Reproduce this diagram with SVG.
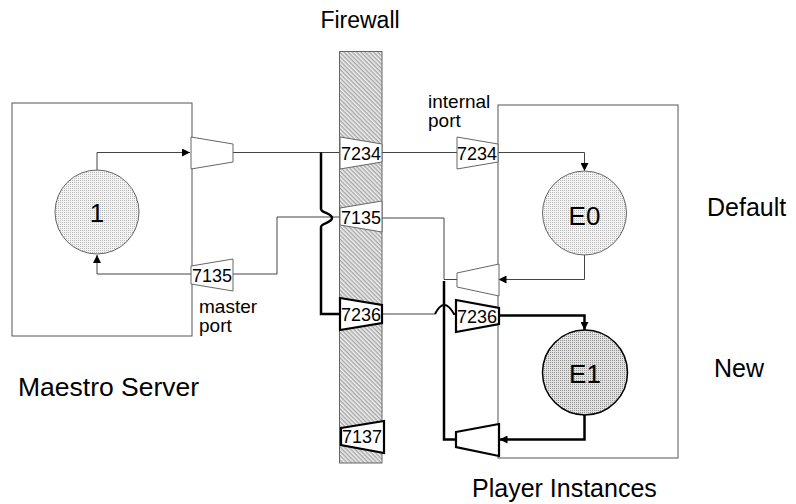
<svg xmlns="http://www.w3.org/2000/svg" width="796" height="504" viewBox="0 0 796 504">
<style>
  .box { fill: none; stroke: #555; stroke-width: 1; }
  .trap { fill: #fff; stroke: #666; stroke-width: 1; }
  .trapb { fill: #fff; stroke: #000; stroke-width: 2.2; }
  .thin { fill: none; stroke: #444; stroke-width: 1; }
  .thick { fill: none; stroke: #000; stroke-width: 2.5; }
  .t { font-family: "Liberation Sans", Arial, sans-serif; fill: #000; }
  .lbl { font-size: 25px; }
  .small { font-size: 19px; }
  .num { font-size: 18px; text-anchor: middle; }
  .cl { font-size: 26px; text-anchor: middle; }
</style>
<defs>
  <pattern id="dots" patternUnits="userSpaceOnUse" width="2" height="2">
    <rect width="2" height="2" fill="#f4f4f4"/>
    <rect width="1" height="1" fill="#b8b8b8"/>
  </pattern>
  <pattern id="dots2" patternUnits="userSpaceOnUse" width="2" height="2">
    <rect width="2" height="2" fill="#e2e2e2"/>
    <rect width="1" height="1" fill="#909090"/>
  </pattern>
  <pattern id="hatch" patternUnits="userSpaceOnUse" width="3" height="3" patternTransform="rotate(45)">
    <rect width="3" height="3" fill="#efefef"/>
    <line x1="0" y1="0.75" x2="3" y2="0.75" stroke="#999" stroke-width="1.2"/>
  </pattern>
  <marker id="arr" markerUnits="userSpaceOnUse" markerWidth="8" markerHeight="8" refX="8" refY="4" orient="auto">
    <path d="M0,0 L8,4 L0,8 z" fill="#000"/>
  </marker>
</defs>
<rect width="796" height="504" fill="#fff"/>

<!-- Titles -->
<text class="t" x="360" y="28" text-anchor="middle" font-size="23">Firewall</text>
<text class="t lbl" x="707" y="216">Default</text>
<text class="t lbl" x="714" y="377">New</text>
<text class="t" x="18" y="396" font-size="26.5">Maestro Server</text>
<text class="t lbl" x="472" y="497">Player Instances</text>
<text class="t small" x="428" y="108">internal</text>
<text class="t small" x="428" y="127">port</text>
<text class="t small" x="199" y="313">master</text>
<text class="t small" x="199" y="332">port</text>

<!-- Firewall -->
<g id="firewall">
  <rect x="339.5" y="51.5" width="42.5" height="411.5" fill="url(#hatch)" stroke="#666" stroke-width="1"/>
</g>

<!-- Maestro Server box -->
<g id="maestro">
  <rect class="box" x="12" y="103" width="180" height="233"/>
</g>

<!-- Player Instances box -->
<g id="players">
  <rect class="box" x="498" y="105" width="180" height="353"/>
</g>

<!-- Connectors -->
<g id="connectors">
  <path class="thin" d="M97,170 V152.5 H190" marker-end="url(#arr)"/>
  <path class="thin" d="M233,152.5 H340"/>
  <path class="thin" d="M191,274 H97 V255" marker-end="url(#arr)"/>
  <path class="thin" d="M233,274 H277 V217 H340"/>
  <path class="thick" d="M321,152.5 V209 C321,213 332,213 332,218 C332,223 321,223 321,227 V314 H340"/>
  <path class="thin" d="M382,152.5 H457"/>
  <path class="thin" d="M498,152.5 H584.5 V171" marker-end="url(#arr)"/>
  <path class="thin" d="M382,218 H444 V279.5 H457"/>
  <path class="thin" d="M584.5,255 V279.5 H498.5" marker-end="url(#arr)"/>
  <path class="thick" d="M444,281 V439.5 H457"/>
  <path class="thin" d="M382,314 H435"/>
  <path d="M435,314 Q444,296 454,314 H456" fill="none" stroke="#000" stroke-width="2"/>
  <path class="thick" d="M499,315.5 H584.5 V330" marker-end="url(#arr)"/>
  <path class="thick" d="M584.5,415 V439.5 H499.5" marker-end="url(#arr)"/>
</g>

<!-- Ports -->
<g id="port-maestro-out">
  <polygon class="trap" points="191,137 233,144 233,162 191,169"/>
</g>
<g id="port-maestro-7135">
  <polygon class="trap" points="191,266 233,259 233,291 191,284"/>
  <text class="t num" x="212" y="282">7135</text>
</g>
<g id="port-fw-7234">
  <polygon class="trap" points="340,137 382,144 382,162 340,169"/>
  <text class="t num" x="361" y="160">7234</text>
</g>
<g id="port-fw-7135">
  <polygon class="trap" points="340,208 382,201 382,232 340,225"/>
  <text class="t num" x="361" y="224">7135</text>
</g>
<g id="port-fw-7236">
  <polygon class="trapb" points="340,298 382,305 382,323 340,330"/>
  <text class="t num" x="361" y="321">7236</text>
</g>
<g id="port-fw-7137">
  <polygon class="trapb" points="341,428 384,421 384,453 341,445"/>
  <text class="t num" x="362" y="443">7137</text>
</g>
<g id="port-player-7234">
  <polygon class="trap" points="457,137 498,144 498,162 457,169"/>
  <text class="t num" x="477" y="160">7234</text>
</g>
<g id="port-player-out0">
  <polygon class="trap" points="457,273 499,264 499,296 457,287"/>
</g>
<g id="port-player-7236">
  <polygon class="trapb" points="456,300 499,308 499,324 456,332"/>
  <text class="t num" x="477" y="323">7236</text>
</g>
<g id="port-player-out1">
  <polygon class="trapb" points="456,432 499,424 499,456 456,447"/>
</g>

<!-- Circles -->
<g id="node-1">
  <circle cx="97" cy="212" r="42" fill="url(#dots)" stroke="#666" stroke-width="1"/>
  <text class="t cl" x="97" y="221.5">1</text>
</g>
<g id="node-E0">
  <circle cx="584.5" cy="213" r="42" fill="url(#dots)" stroke="#666" stroke-width="1"/>
  <text class="t cl" x="584.5" y="225">E0</text>
</g>
<g id="node-E1">
  <circle cx="585" cy="372.5" r="42.5" fill="url(#dots2)" stroke="#000" stroke-width="1.5"/>
  <text class="t cl" x="585" y="383">E1</text>
</g>
</svg>
